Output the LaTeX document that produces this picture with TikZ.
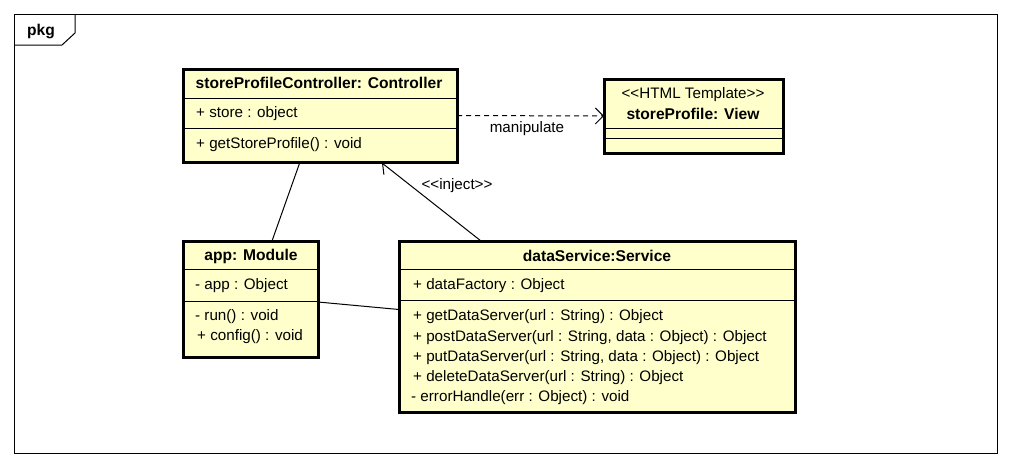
\documentclass[tikz,border=0pt]{standalone}
\usepackage{fontspec}
\setmainfont{Liberation Sans}
\usetikzlibrary{arrows.meta,calc}
\definecolor{umlfill}{HTML}{FFFFCC}
% guillemet-free stereotype brackets
\newcommand\stl{<\kern0pt<}
\newcommand\str{>\kern0pt>}
\begin{document}
\begin{tikzpicture}[x=1pt,y=-1pt,
  every node/.style={font=\fontsize{15.2}{17}\selectfont, inner sep=0pt},
  umlbox/.style={draw=black, line width=3pt, fill=umlfill, anchor=north west, inner sep=0pt, outer sep=0pt},
  sep/.style={line width=1pt},
  txt/.style={anchor=west},
  ttl/.style={font=\fontsize{15.6}{17}\selectfont\bfseries},
  conn/.style={line width=1pt},
  openhead/.style={-{Straight Barb[length=8pt,width=16pt,line width=1pt]}}
]
\useasboundingbox (0,0) rectangle (1010,469);
\fill[white] (0,0) rectangle (1010,469);

% package frame with its name tab
\draw[line width=1pt] (14,14) rectangle (997,453);
\draw[line width=1pt] (14,45) -- (62,45) -- (75,33) -- (75,14);
\node[font=\fontsize{15.6}{17}\selectfont\bfseries] (pkgname) at (41,31) {pkg};

% controller instance
\node[umlbox, minimum width=274pt, minimum height=93pt] (ctrl) at (183,69) {};
\draw[sep] (183,98) -- (456,98);
\draw[sep] (183,128) -- (456,128);
\node[ttl] (ctrlname) at (319,83) {storeProfileController: Controller};
\node[txt] (ctrlattr) at (196,114) {+ store : object};
\node[txt] (ctrlop) at (196,145) {+ getStoreProfile() : void};

% view instance
\node[umlbox, minimum width=179pt, minimum height=74pt] (view) at (604,79) {};
\draw[sep] (604,128) -- (783,128);
\draw[sep] (604,138) -- (783,138);
\node (viewst) at (693,95) {\stl HTML Template\str};
\node[ttl] (viewname) at (693,114) {storeProfile: View};

% module instance
\node[umlbox, minimum width=135pt, minimum height=116pt] (app) at (183,241) {};
\draw[sep] (183,269) -- (317,269);
\draw[sep] (183,301) -- (317,301);
\node[ttl] (appname) at (251,256) {app: Module};
\node[txt] (appattr) at (195,286) {- app : Object};
\node[txt] (appop1) at (195,317) {- run() : void};
\node[txt] (appop2) at (197,337) {+ config() : void};

% service instance
\node[umlbox, minimum width=396pt, minimum height=171pt] (svc) at (399,241) {};
\draw[sep] (399,269) -- (794,269);
\draw[sep] (399,300) -- (794,300);
\node[ttl] (svcname) at (597,256) {dataService:Service};
\node[txt] (svcattr) at (413,286) {+ dataFactory : Object};
\node[txt] (svcop1) at (413,317) {+ getDataServer(url : String) : Object};
\node[txt] (svcop2) at (413,338) {+ postDataServer(url : String, data : Object) : Object};
\node[txt] (svcop3) at (413,358) {+ putDataServer(url : String, data : Object) : Object};
\node[txt] (svcop4) at (413,378) {+ deleteDataServer(url : String) : Object};
\node[txt] (svcop5) at (411,398) {- errorHandle(err : Object) : void};

% connectors
\draw[conn] ($(ctrl.south west)+(117,0)$) -- ($(app.north west)+(89,0)$);
\draw[conn] ($(app.east)+(0,3)$) -- ($(svc.west)+(0,-17)$);
\draw[conn, openhead] ($(svc.north west)+(82,0)$) -- ($(ctrl.south west)+(199,1)$);
\node (inj) at (457,186) {\stl inject\str};
\draw[conn, dashed, dash pattern=on 5pt off 4pt, openhead] ($(ctrl.east)+(0,0)$) -- ($(view.west)+(0,0)$);
\node (manip) at (527,129) {manipulate};
\end{tikzpicture}
\end{document}
